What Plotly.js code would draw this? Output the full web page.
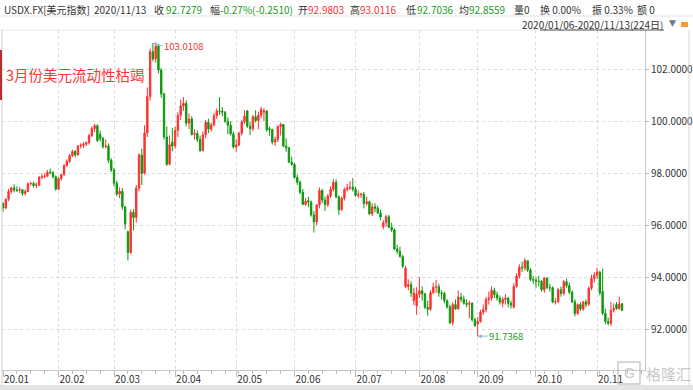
<!DOCTYPE html>
<html><head><meta charset="utf-8">
<script src="https://cdn.plot.ly/plotly-3.0.1.min.js"></script>
<style>html,body{margin:0;padding:0;background:#fff;overflow:hidden}#chart{width:693px;height:390px}</style>
</head><body><div id="chart"></div>
<script>
// Month start positions (trading-day index) and labels
const monthTickIndex = [0,20,40,62,84,105,127,150,171,192,214];
const monthTickLabels = ['20.01','20.02','20.03','20.04','20.05','20.06','20.07','20.08','20.09','20.10','20.11'];
const priceTicks = [92,94,96,98,100,102];

// USDX daily candles 2020/01/06 - 2020/11/13 (224 trading days)
const open = [
96.84,96.67,97.00,97.30,97.44,97.36,97.35,97.37,97.22,97.30,
97.60,97.61,97.53,97.55,97.84,97.87,97.89,98.04,98.02,97.87,
97.39,97.80,97.95,98.30,98.46,98.68,98.84,98.71,99.05,99.08,
99.12,99.18,99.45,99.72,99.83,99.50,99.34,99.03,99.05,98.50,
98.13,97.62,97.20,97.31,96.70,95.75,94.95,96.50,96.30,97.43,
98.70,98.00,99.55,100.95,102.68,102.40,102.90,101.97,101.05,99.40,
98.35,99.20,99.05,99.65,100.23,100.59,100.69,99.93,100.09,99.50,
99.53,99.30,98.87,99.48,99.96,99.70,99.86,100.21,100.40,100.39,
100.35,100.00,99.85,99.52,99.01,99.09,99.54,99.98,100.40,99.81,
99.71,100.18,100.03,100.23,100.35,100.40,99.72,99.68,99.20,99.30,
99.80,99.88,99.05,98.98,98.43,98.34,97.84,97.66,97.27,96.80,
96.95,96.90,96.40,96.13,96.78,97.34,96.97,96.79,97.13,97.38,
97.66,97.09,96.60,97.04,97.38,97.44,97.46,97.39,97.15,97.17,
97.20,96.84,96.91,96.44,96.71,96.66,96.47,95.95,96.10,96.33,
95.92,95.82,95.09,95.00,94.80,93.65,93.65,93.72,93.10,92.90,
93.35,93.48,93.37,92.85,92.77,93.41,93.62,93.64,93.40,93.38,
93.10,92.86,92.25,92.95,92.79,93.24,93.15,93.00,92.96,93.00,
92.37,92.20,92.30,92.66,92.75,93.15,93.20,93.50,93.33,93.20,
93.00,93.15,93.20,93.00,92.85,93.65,94.05,94.39,94.36,94.64,
94.28,93.92,93.89,93.85,93.84,93.52,93.97,93.60,93.60,93.05,
93.06,93.52,93.38,93.83,93.68,93.43,93.06,92.61,92.95,92.78,
93.05,92.96,93.58,93.95,94.08,94.20,93.45,92.62,92.30,92.23,
92.73,92.95,92.80,92.9803];
const high = [
96.88,97.04,97.40,97.48,97.58,97.50,97.47,97.40,97.38,97.65,
97.68,97.68,97.65,97.90,97.99,98.00,98.13,98.19,98.10,97.92,
97.85,97.98,98.36,98.54,98.75,98.91,98.90,99.08,99.15,99.20,
99.22,99.52,99.80,99.91,99.88,99.64,99.40,99.30,99.15,98.58,
98.20,97.72,97.45,97.43,96.75,95.80,96.60,96.62,97.55,98.77,
98.95,99.85,101.30,102.80,103.0108,102.99,102.95,102.05,101.10,99.80,
99.45,99.75,99.80,100.35,100.83,100.93,100.80,100.30,100.20,99.70,
99.65,99.45,99.60,100.05,100.10,99.95,100.33,100.50,100.93,100.55,
100.40,100.15,100.00,99.60,99.30,99.60,100.05,100.43,100.43,99.98,
100.24,100.43,100.37,100.56,100.50,100.43,99.80,99.72,99.40,99.85,
99.95,99.90,99.35,99.02,98.64,98.40,97.95,97.72,97.40,97.05,
97.10,96.95,96.55,96.82,97.45,97.40,97.10,97.20,97.50,97.77,
97.77,97.15,97.10,97.45,97.60,97.70,97.81,97.48,97.33,97.25,
97.28,97.10,96.95,96.85,96.85,96.75,96.60,96.20,96.40,96.40,
96.10,95.88,95.25,95.18,94.86,94.45,93.92,93.85,93.60,93.62,
94.00,93.65,93.40,93.10,93.50,93.80,93.90,93.75,93.50,93.45,
93.15,92.95,93.05,93.15,93.50,93.40,93.30,93.15,93.10,93.05,
92.45,92.47,92.75,92.95,93.25,93.45,93.66,93.60,93.45,93.30,
93.25,93.35,93.25,93.10,93.77,94.15,94.50,94.60,94.74,94.65,
94.35,94.05,94.00,94.05,93.90,94.00,94.00,93.75,93.65,93.20,
93.60,93.65,93.90,93.95,93.80,93.50,93.15,93.00,93.05,93.10,
93.15,93.65,94.10,94.20,94.36,94.25,94.33,92.80,92.45,93.05,
93.00,93.05,93.25,93.0116];
const low = [
96.52,96.62,96.93,97.22,97.27,97.28,97.24,97.13,97.15,97.28,
97.53,97.45,97.43,97.50,97.77,97.80,97.85,97.96,97.80,97.33,
97.35,97.72,97.90,98.25,98.40,98.63,98.62,98.68,98.95,98.98,
99.05,99.10,99.40,99.58,99.20,99.22,98.95,98.95,98.40,98.05,
97.50,97.12,97.05,96.60,95.85,94.65,94.90,95.80,96.10,97.30,
97.55,97.95,99.40,100.80,102.30,102.25,101.85,100.90,99.30,98.28,
98.30,98.85,98.95,99.40,100.05,100.40,99.80,99.70,99.45,99.30,
99.20,98.83,98.85,99.35,99.55,99.60,99.80,100.10,100.25,100.20,
99.95,99.50,99.45,98.95,98.83,99.05,99.45,99.90,99.75,99.47,
99.62,99.95,99.70,100.12,100.00,99.60,99.45,99.10,99.05,99.20,
99.45,99.00,98.83,98.40,98.30,97.80,97.55,97.20,96.78,96.75,
96.70,96.33,95.72,96.00,96.65,96.85,96.55,96.70,97.05,97.30,
97.05,96.40,96.55,96.95,97.30,97.35,97.30,97.10,97.05,97.05,
96.65,96.75,96.40,96.35,96.50,96.45,96.20,95.85,95.95,95.90,
95.75,95.05,94.90,94.75,94.35,93.58,93.50,93.25,92.93,92.55,
93.20,93.10,92.78,92.52,92.70,93.35,93.40,93.25,93.15,93.00,
92.80,92.20,92.15,92.75,92.75,93.05,92.95,92.85,92.42,92.30,
92.10,91.7368,92.25,92.55,92.65,92.95,93.10,93.20,93.10,92.95,
92.85,92.95,92.85,92.80,92.80,93.60,93.95,94.20,94.25,94.20,
93.85,93.75,93.60,93.65,93.45,93.40,93.55,93.45,93.00,92.95,
93.00,93.25,93.30,93.60,93.35,93.00,92.50,92.55,92.70,92.70,
92.85,92.90,93.50,93.80,93.95,93.30,92.55,92.20,92.15,92.13,
92.65,92.75,92.75,92.7036];
const close = [
96.67,97.00,97.30,97.44,97.36,97.35,97.37,97.22,97.30,97.60,
97.61,97.53,97.55,97.84,97.87,97.89,98.04,98.02,97.87,97.39,
97.80,97.95,98.30,98.46,98.68,98.84,98.71,99.05,99.08,99.12,
99.18,99.45,99.72,99.83,99.26,99.34,99.03,99.05,98.50,98.13,
97.62,97.20,97.31,96.70,96.05,94.95,96.50,96.30,97.43,98.70,
98.00,99.55,100.95,102.68,102.40,102.90,101.97,101.05,99.40,98.35,
99.10,99.05,99.65,100.23,100.59,100.69,99.93,100.09,99.50,99.53,
99.30,98.87,99.48,99.96,99.70,99.86,100.21,100.40,100.39,100.35,
100.00,99.85,99.52,99.01,99.09,99.54,99.98,100.20,99.81,99.71,
100.18,100.03,100.23,100.46,100.40,99.67,99.68,99.20,99.30,99.80,
99.88,99.05,98.98,98.43,98.34,97.84,97.66,97.27,96.80,96.93,
96.90,96.40,96.13,96.78,97.34,96.97,96.79,97.13,97.38,97.66,
97.09,96.60,97.04,97.38,97.44,97.46,97.39,97.15,97.17,97.20,
96.84,96.91,96.44,96.71,96.66,96.47,96.32,96.10,96.33,95.92,
95.82,95.09,95.00,94.80,94.43,94.35,93.72,93.40,93.40,93.35,
93.48,93.37,92.85,92.77,93.41,93.62,93.64,93.40,93.38,93.10,
92.86,92.25,92.95,92.79,93.24,93.15,93.00,92.96,93.00,92.37,
92.14,92.30,92.66,92.75,93.15,93.20,93.50,93.33,93.20,93.05,
93.15,93.20,93.00,92.94,93.65,94.05,94.39,94.36,94.64,94.28,
93.92,93.89,93.85,93.84,93.52,93.97,93.60,93.60,93.05,93.06,
93.52,93.38,93.83,93.68,93.43,93.06,92.61,92.95,92.78,93.05,
92.96,93.58,93.95,94.08,94.20,93.40,92.62,92.30,92.23,92.73,
92.80,92.80,92.98,92.7279];

const peakIndex = 54, peakValue = 103.0108;
const lowIndex = 171, lowValue = 91.7368;
const headerItems = [
  ['USDX.FX[美元指数]','#333'],['2020/11/13','#333'],['收','#333'],['92.7279','#1a9a1a'],
  ['幅','#333'],['-0.27%(-0.2510)','#1a9a1a'],['开','#333'],['92.9803','#e33'],
  ['高','#333'],['93.0116','#e33'],['低','#333'],['92.7036','#1a9a1a'],
  ['均','#333'],['92.8559','#1a9a1a'],['量0','#333'],['换 0.00%','#333'],['振 0.33%','#333'],['额 0','#333']
];
const headerX = [3,93,153,165,209,219,297,307,349,359,405,416,458,468,513,539,591,636];

const xIdx = open.map((_, i) => i);

// pixel -> paper helpers
const L = 2, R = 645, T = 30, B = 370;
const PX = x => (x - L) / (R - L);
const PY = y => (B - y) / (B - T);
const FONT = "'Noto Sans CJK SC', 'Liberation Sans', sans-serif";
const RED = '#ff3030', GREEN = '#0c990c';

const trace = {
  type: 'candlestick', x: xIdx, open: open, high: high, low: low, close: close,
  increasing: {line: {color: RED, width: 1}, fillcolor: RED},
  decreasing: {line: {color: GREEN, width: 1}, fillcolor: GREEN},
  whiskerwidth: 0, hoverinfo: 'none', showlegend: false
};

const annotations = headerItems.map((h, i) => ({
  xref: 'paper', yref: 'paper', x: PX(headerX[i]), y: PY(10), xanchor: 'left', yanchor: 'middle',
  text: h[0], showarrow: false, font: {family: FONT, size: 10, color: h[1]}, borderpad: 0
}));
annotations.push(
  {xref:'paper', yref:'paper', x: PX(664), y: PY(24), xanchor:'right', yanchor:'middle', text:'2020/01/06-2020/11/13(224日)', showarrow:false, font:{family:FONT,size:10,color:'#333'}, borderpad:0},
  {xref:'paper', yref:'paper', x: PX(672), y: PY(23), xanchor:'center', yanchor:'middle', text:'▼', showarrow:false, font:{family:'DejaVu Sans',size:9,color:'#777'}, borderpad:0},
  {xref:'paper', yref:'paper', x: PX(5), y: PY(74), xanchor:'left', yanchor:'middle', text:'3月份美元流动性枯竭', showarrow:false, font:{family:FONT,size:14.5,color:'#ff3535'}, borderpad:0},
  {xref:'x', yref:'y', x: peakIndex, y: peakValue, ax: 10, ay: 3, xanchor:'left', yanchor:'middle', text: peakValue.toFixed(4), showarrow:true, arrowhead:2, arrowsize:0.8, arrowwidth:1, arrowcolor:'#8ab6d6', font:{family:FONT,size:9.5,color:'#e33'}, borderpad:0},
  {xref:'x', yref:'y', x: lowIndex, y: lowValue, ax: 10, ay: 0, xanchor:'left', yanchor:'middle', text: lowValue.toFixed(4), showarrow:true, arrowhead:2, arrowsize:0.8, arrowwidth:1, arrowcolor:'#8ab6d6', font:{family:FONT,size:9.5,color:'#1a9a1a'}, borderpad:0},
  {xref:'paper', yref:'paper', x: PX(645), y: PY(373), xanchor:'left', yanchor:'middle', text:'格隆汇', showarrow:false, font:{family:FONT,size:15,color:'rgba(150,150,150,0.55)'}, borderpad:0},
  {xref:'paper', yref:'paper', x: PX(629), y: PY(373), xanchor:'center', yanchor:'middle', text:'G', showarrow:false, font:{family:'Liberation Sans',size:14,color:'rgba(150,150,150,0.55)'}, borderpad:0}
);

const shapes = [
  {type:'line', xref:'paper', yref:'paper', x0:PX(0), x1:PX(693), y0:PY(16), y1:PY(16), line:{color:'#e2e2e2', width:1}},
  {type:'line', xref:'paper', yref:'paper', x0:PX(0), x1:PX(645), y0:PY(30), y1:PY(30), line:{color:'#e6e6e6', width:1}},
  {type:'line', xref:'paper', yref:'paper', x0:PX(540), x1:PX(664), y0:PY(30), y1:PY(30), line:{color:'#555', width:1}},
  {type:'line', xref:'paper', yref:'paper', x0:PX(2), x1:PX(2), y0:PY(30), y1:PY(386), line:{color:'#cfcfcf', width:1}},
  {type:'line', xref:'paper', yref:'paper', x0:PX(689), x1:PX(689), y0:PY(30), y1:PY(386), line:{color:'#d4d4d4', width:1}},
  {type:'rect', xref:'paper', yref:'paper', x0:PX(0), x1:PX(2), y0:PY(100), y1:PY(50), line:{width:0}, fillcolor:'#b8302c'},
  {type:'rect', xref:'paper', yref:'paper', x0:PX(0), x1:PX(693), y0:PY(390), y1:PY(385), line:{width:0}, fillcolor:'#e4e4e4'},
  {type:'rect', xref:'paper', yref:'paper', x0:PX(681), x1:PX(688), y0:PY(27), y1:PY(22), line:{width:0}, fillcolor:'#f0a030'},
  {type:'rect', xref:'paper', yref:'paper', x0:PX(618), x1:PX(640), y0:PY(384), y1:PY(362), line:{width:1.5, color:'rgba(150,150,150,0.5)'}, fillcolor:'rgba(0,0,0,0)'}
];

const layout = {
  width: 693, height: 390,
  margin: {l: L, r: 693 - R, t: T, b: 390 - B, pad: 0},
  paper_bgcolor: '#fff', plot_bgcolor: '#fff',
  showlegend: false, dragmode: false,
  xaxis: {
    type: 'linear', range: [-0.36, 231.27], rangeslider: {visible: false},
    tickmode: 'array', tickvals: monthTickIndex, ticktext: monthTickLabels,
    ticks: 'outside', ticklen: 6, tickcolor: '#bbb', tickwidth: 1,
    ticklabelposition: 'outside right',
    tickfont: {family: FONT, size: 10, color: '#333'},
    showgrid: true, gridcolor: '#dadada', griddash: '3px,3px', gridwidth: 1,
    minor: {tickmode: 'linear', tick0: 0, dtick: 5, ticks: 'outside', ticklen: 3, tickcolor: '#bbb', showgrid: false},
    showline: true, linecolor: '#c8c8c8', linewidth: 1, zeroline: false, fixedrange: true
  },
  yaxis: {
    side: 'right', range: [90.435, 103.512],
    tickmode: 'array', tickvals: priceTicks, tickformat: '.4f',
    ticks: 'outside', ticklen: 3, tickcolor: '#bbb',
    tickfont: {family: FONT, size: 10, color: '#333'},
    showgrid: true, gridcolor: '#dadada', griddash: '3px,3px', gridwidth: 1,
    showline: true, linecolor: '#c8c8c8', linewidth: 1, zeroline: false, fixedrange: true
  },
  annotations: annotations, shapes: shapes
};

Plotly.newPlot('chart', [trace], layout, {staticPlot: true, displayModeBar: false});
</script></body></html>
